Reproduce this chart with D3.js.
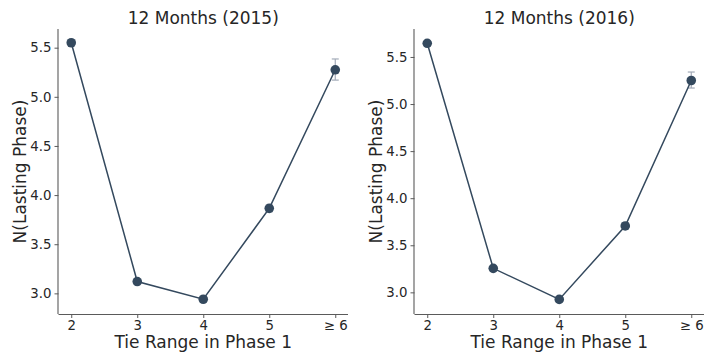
<!DOCTYPE html>
<html>
<head>
<meta charset="utf-8">
<script src="https://cdn.jsdelivr.net/npm/d3@7/dist/d3.min.js"></script>
<style>
  html, body { margin: 0; padding: 0; background: #fff; }
  svg { display: block; }
  text { font-family: "DejaVu Sans", sans-serif; fill: #262626; }
</style>
</head>
<body>
<svg id="chart" width="704" height="356"></svg>
<script>
// Categories on the x axis
const categories = ["2", "3", "4", "5", "\u2265 6"];
const yTicks = [3.0, 3.5, 4.0, 4.5, 5.0, 5.5];

// 12 Months (2015)
const mean2015  = [5.55, 3.12, 2.94, 3.865, 5.275];
const lower2015 = [5.54, 3.11, 2.93, 3.83, 5.17];
const upper2015 = [5.56, 3.13, 2.95, 3.90, 5.385];

// 12 Months (2016)
const mean2016  = [5.645, 3.255, 2.925, 3.705, 5.25];
const lower2016 = [5.635, 3.245, 2.915, 3.675, 5.17];
const upper2016 = [5.655, 3.265, 2.935, 3.74, 5.34];

const panels = [
  { title: "12 Months (2015)", mean: mean2015, lo: lower2015, hi: upper2015,
    left: 58.5, right: 348, yDomain: [2.79, 5.69], ylabelX: 26 },
  { title: "12 Months (2016)", mean: mean2016, lo: lower2016, hi: upper2016,
    left: 414.5, right: 704, yDomain: [2.77, 5.797], ylabelX: 382 }
];

const plotTop = 29, plotBottom = 314;
const lineColor = "#34495e";
const errColor = "#a3abb8";
const spineColor = "#5a5a5a";

const svg = d3.select("#chart");

panels.forEach(p => {
  const g = svg.append("g");
  const x = d3.scalePoint().domain(categories).range([p.left, p.right]).padding(0.193);
  const y = d3.scaleLinear().domain(p.yDomain).range([plotBottom, plotTop]);

  // axes
  const xAxis = g.append("g")
    .attr("transform", `translate(0,${plotBottom})`)
    .call(d3.axisBottom(x).tickSize(4).tickPadding(3));
  const yAxis = g.append("g")
    .attr("transform", `translate(${p.left},0)`)
    .call(d3.axisLeft(y).tickValues(yTicks).tickFormat(d3.format(".1f")).tickSize(4).tickPadding(3));
  [xAxis, yAxis].forEach(a => {
    a.select(".domain").attr("stroke", spineColor).attr("stroke-width", 1.1);
    a.selectAll(".tick line").attr("stroke", spineColor).attr("stroke-width", 1);
    a.selectAll(".tick text").attr("font-size", 13.3).attr("fill", "#262626")
      .style("font-family", "DejaVu Sans, sans-serif");
  });
  // plain spines without end caps
  xAxis.select(".domain").attr("d", `M${p.left},0.5H${p.right}`);
  yAxis.select(".domain").attr("d", `M-0.5,${plotTop}V${plotBottom}`);

  // error bars
  const eb = g.append("g").attr("stroke", errColor).attr("stroke-width", 1.2);
  categories.forEach((c, i) => {
    const cx = x(c);
    eb.append("line").attr("x1", cx).attr("x2", cx).attr("y1", y(p.lo[i])).attr("y2", y(p.hi[i]));
    eb.append("line").attr("x1", cx - 3.5).attr("x2", cx + 3.5).attr("y1", y(p.lo[i])).attr("y2", y(p.lo[i]));
    eb.append("line").attr("x1", cx - 3.5).attr("x2", cx + 3.5).attr("y1", y(p.hi[i])).attr("y2", y(p.hi[i]));
  });

  // line
  g.append("path")
    .datum(p.mean)
    .attr("fill", "none")
    .attr("stroke", lineColor)
    .attr("stroke-width", 1.5)
    .attr("d", d3.line().x((d, i) => x(categories[i])).y(d => y(d)));

  // markers
  g.selectAll("circle.pt").data(p.mean).enter().append("circle")
    .attr("class", "pt")
    .attr("cx", (d, i) => x(categories[i]))
    .attr("cy", d => y(d))
    .attr("r", 4.8)
    .attr("fill", lineColor);

  // title
  g.append("text")
    .attr("x", (p.left + p.right) / 2)
    .attr("y", 24)
    .attr("text-anchor", "middle")
    .attr("font-size", 17)
    .text(p.title);

  // x label
  g.append("text")
    .attr("x", (p.left + p.right) / 2)
    .attr("y", 348)
    .attr("text-anchor", "middle")
    .attr("font-size", 17)
    .text("Tie Range in Phase 1");

  // y label
  g.append("text")
    .attr("transform", `translate(${p.ylabelX},${(plotTop + plotBottom) / 2}) rotate(-90)`)
    .attr("text-anchor", "middle")
    .attr("font-size", 17)
    .text("N(Lasting Phase)");
});
</script>
</body>
</html>
